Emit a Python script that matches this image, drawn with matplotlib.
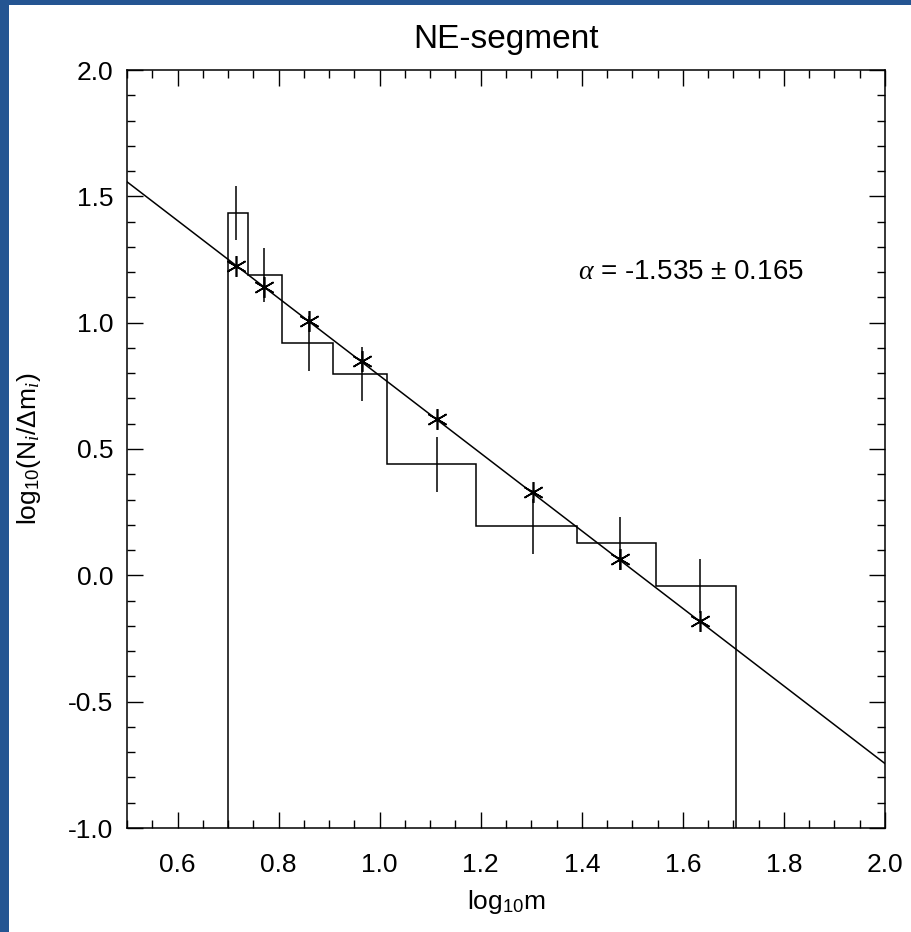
import numpy as np
import matplotlib.pyplot as plt
from matplotlib.ticker import MultipleLocator, FormatStrFormatter
from matplotlib.patches import Rectangle

plt.rcParams['font.family'] = ['Liberation Sans', 'DejaVu Sans']
plt.rcParams['mathtext.fontset'] = 'custom'
plt.rcParams['mathtext.rm'] = 'Liberation Sans'
plt.rcParams['mathtext.it'] = 'Liberation Serif:italic'
plt.rcParams['axes.unicode_minus'] = False

# histogram of log10(N_i/dm_i)
bin_edges = [0.699, 0.740, 0.806, 0.908, 1.015, 1.191, 1.391, 1.547, 1.706]
bin_vals = [1.435, 1.190, 0.918, 0.798, 0.439, 0.195, 0.127, -0.041]
bin_err = [0.107, 0.107, 0.110, 0.107, 0.108, 0.109, 0.105, 0.107]

# mean mass of each bin (asterisks on the fit)
pt_x = [0.716, 0.772, 0.860, 0.966, 1.113, 1.303, 1.476, 1.634]
pt_y = [1.226, 1.141, 1.008, 0.847, 0.619, 0.330, 0.063, -0.181]

# fitted power law
fit_icpt = 2.325
fit_slope = -1.535
fit_slope_err = 0.165

fig = plt.figure(figsize=(9.12, 9.32), dpi=100, facecolor='#245592')
fig.patches.append(Rectangle((9/912, 0), 1, 1 - 5/932, transform=fig.transFigure,
                             facecolor='white', edgecolor='none', zorder=-10))
ax = fig.add_axes([127/912, 1 - 828/932, 758/912, 758/932])
ax.set_zorder(5)

ax.stairs(bin_vals, bin_edges, baseline=-1.0, color='k', lw=1.1)
ax.errorbar(pt_x, bin_vals, yerr=bin_err, fmt='none', ecolor='k', elinewidth=1.1, capsize=0)
ax.plot(pt_x, pt_y, ls='none', marker=(6, 2, 0), ms=15, mec='k', mew=1.2)
ax.axline((0, fit_icpt), slope=fit_slope, color='k', lw=1.1)

ax.text(1.393, 1.20, r'$\alpha$ = %.3f $\pm$ %.3f' % (fit_slope, fit_slope_err),
        fontsize=20, ha='left', va='center')

ax.set_xlim(0.5, 2.0)
ax.set_ylim(-1.0, 2.0)
ax.xaxis.set_major_locator(MultipleLocator(0.2))
ax.xaxis.set_minor_locator(MultipleLocator(0.05))
ax.yaxis.set_major_locator(MultipleLocator(0.5))
ax.yaxis.set_minor_locator(MultipleLocator(0.1))
ax.xaxis.set_major_formatter(FormatStrFormatter('%.1f'))
ax.yaxis.set_major_formatter(FormatStrFormatter('%.1f'))
ax.tick_params(which='both', direction='in', top=True, right=True, width=1, labelsize=19)
ax.tick_params(which='major', length=11.5)
ax.tick_params(which='minor', length=5.8)
ax.tick_params(axis='x', pad=18)
ax.tick_params(axis='y', pad=10)
for s in ax.spines.values():
    s.set_linewidth(1.1)

ax.set_xlabel(r'log$_{10}$m', fontsize=19, labelpad=8)
ax.set_ylabel(r'log$_{10}$(N$_i$/$\Delta$m$_i$)', fontsize=19, labelpad=18)
ax.set_title('NE-segment', fontsize=24, pad=16)

fig.savefig('out.png', dpi=100, facecolor=fig.get_facecolor())
